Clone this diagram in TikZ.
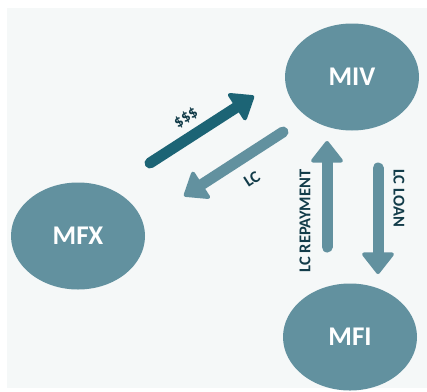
\documentclass[tikz,border=0pt]{standalone}
\usepackage{fontspec}
\setmainfont{Carlito}
\usetikzlibrary{arrows.meta,shapes.geometric}
\definecolor{bgc}{HTML}{F5F8F8}
\definecolor{ellc}{HTML}{62919F}
\definecolor{darkc}{HTML}{1C6475}
\definecolor{lblc}{HTML}{123C49}
\tikzset{
  entity/.style={ellipse, fill=ellc, draw=none, minimum width=134pt, minimum height=107pt, inner sep=0pt, text=white, font=\fontsize{27}{30}\selectfont\bfseries},
  flow/.style={line width=11pt, line cap=round, -{Triangle[width=35pt, length=23pt, round, line width=4pt]}},
  lbl/.style={text=lblc, font=\fontsize{16.5}{18}\selectfont\bfseries, inner sep=0pt}
}
\begin{document}
\begin{tikzpicture}[x=1pt,y=-1pt]
\useasboundingbox (0,0) rectangle (427,391);
\fill[bgc] (7,8) rectangle (427,388);
\node[entity] (miv) at (352,77) {MIV};
\node[entity] (mfx) at (78,236) {MFX};
\node[entity] (mfi) at (350,337) {MFI};
\coordinate (a1s) at (150,163);
\coordinate (a1e) at (254,96);
\coordinate (a2s) at (283,132);
\coordinate (a2e) at (184,196);
\coordinate (a3s) at (327,247);
\coordinate (a3e) at (327,141);
\coordinate (a4s) at (378,168);
\coordinate (a4e) at (378,274);
\draw[flow, darkc] (a1s) -- (a1e);
\draw[flow, ellc] (a2s) -- (a2e);
\draw[flow, ellc] (a3s) -- (a3e);
\draw[flow, ellc] (a4s) -- (a4e);
\node[lbl, rotate=33] (l1) at (186,118) {\$\$\$};
\node[lbl, rotate=33] (l2) at (252,179) {LC};
\node[lbl, rotate=90] (l3) at (305,221) {LC REPAYMENT};
\node[lbl, rotate=-90] (l4) at (399,198) {LC LOAN};
\end{tikzpicture}
\end{document}
